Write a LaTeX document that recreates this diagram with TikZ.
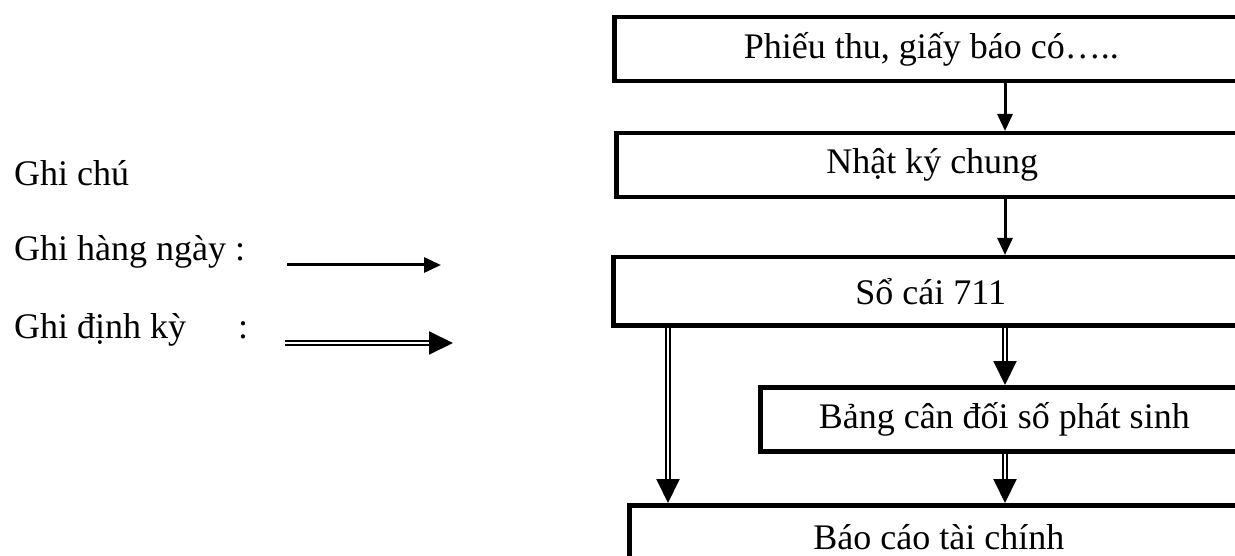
\documentclass[tikz,border=0pt]{standalone}
\usepackage{fontspec}
\setmainfont{Liberation Serif}
\usetikzlibrary{arrows.meta}
\begin{document}
\begin{tikzpicture}[x=1pt,y=-1pt,
  every node/.style={font=\fontsize{36}{42}\selectfont, inner sep=0pt},
  stage/.style={draw, line width=4.5pt, minimum height=64pt, anchor=north west, align=center},
  daily/.style={line width=3pt, -{Triangle[length=17pt,width=15pt]}},
  periodic/.style={draw=black, double=white, line width=2pt, double distance=2.5pt,
    -{Triangle[length=24pt,width=23pt]}}
]
\clip (0,0) rectangle (1235,556);
\fill[white] (0,0) rectangle (1235,556);

% legend
\node[anchor=base west] (note) at (14,186) {Ghi chú};
\node[anchor=base west] (daytxt) at (14,261) {Ghi hàng ngày :};
\node[anchor=base west] (pertxt) at (14,338) {Ghi định kỳ\hspace{52pt}:};
\coordinate (d0) at (287,265);
\coordinate (d1) at (441,265);
\coordinate (p0) at (285,343);
\coordinate (p1) at (453,343);
\draw[daily] (d0) -- (d1);
\draw[periodic] (p0) -- (p1);

% flow of records (boxes run past the right edge)
\node[stage, minimum width=634pt] (slip) at (612,15) {Phiếu thu, giấy báo có…..};
\node[stage, minimum width=632pt] (journal) at (614,131) {Nhật ký chung};
\node[stage, minimum width=635pt, minimum height=68pt] (ledger) at (611,255) {Sổ cái 711};
\node[stage, minimum width=488pt] (trial) at (758,385) {Bảng cân đối số phát sinh};
\node[stage, minimum width=619pt] (report) at (627,503) {Báo cáo tài chính};

\coordinate (mainx) at (1005,0);
\coordinate (sidex) at (668,0);
\draw[daily] (slip.south -| mainx) -- (journal.north -| mainx);
\draw[daily] (journal.south -| mainx) -- (ledger.north -| mainx);
\draw[periodic] (ledger.south -| mainx) -- (trial.north -| mainx);
\draw[periodic] (trial.south -| mainx) -- (report.north -| mainx);
\draw[periodic] (ledger.south -| sidex) -- (report.north -| sidex);
\end{tikzpicture}
\end{document}
